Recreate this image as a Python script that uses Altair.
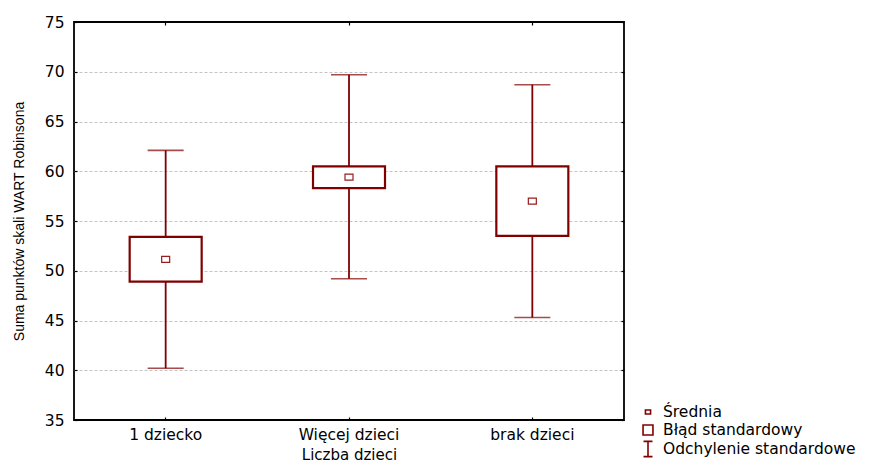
import altair as alt
import pandas as pd

cats = ["1 dziecko", "Więcej dzieci", "brak dzieci"]
mean = [51.15, 59.4, 57.0]
se_lo = [48.9, 58.3, 53.5]
se_hi = [53.4, 60.5, 60.5]
sd_lo = [40.2, 49.2, 45.3]
sd_hi = [62.1, 69.7, 68.7]

leg = ["Średnia", "Błąd standardowy", "Odchylenie standardowe"]
leg_paths = [
    "M-0.32,-0.25L0.32,-0.25L0.32,0.25L-0.32,0.25Z",
    "M-0.62,-0.62L0.62,-0.62L0.62,0.62L-0.62,0.62Z",
    "M-0.56,-0.95L0.56,-0.95M0,-0.95L0,0.95M-0.56,0.95L0.56,0.95",
]

y_ticks = [35, 40, 45, 50, 55, 60, 65, 70, 75]
grid_vals = [40, 45, 50, 55, 60, 65, 70]

df = pd.DataFrame({"cat": cats, "mean": mean, "se_lo": se_lo, "se_hi": se_hi,
                   "sd_lo": sd_lo, "sd_hi": sd_hi})
dleg = pd.DataFrame({"leg": leg})

C = "#800000"
FONT = "DejaVu Sans"

xs = alt.Scale(domain=cats, paddingInner=0, paddingOuter=0)
ys = alt.Scale(domain=[35, 75], nice=False, zero=False)

base = alt.Chart(df)

whisk = base.mark_rule(color=C, strokeWidth=1.8).encode(
    x=alt.X("cat:N", scale=xs, sort=cats,
            axis=alt.Axis(orient="bottom", ticks=False, domain=False, grid=False,
                          labelAngle=0, labelPadding=7, labelFont=FONT, labelFontSize=15.5,
                          labelColor="black", title="Liczba dzieci", titleFont=FONT,
                          titleFontSize=15, titleFontWeight="normal",
                          titleBaseline="alphabetic", titleY=39,
                          titleColor="black", bandPosition=0.5)),
    y=alt.Y("sd_lo:Q", scale=ys,
            axis=alt.Axis(orient="left", values=y_ticks, ticks=False, domain=False,
                          grid=False, labelPadding=10, labelFont=FONT, labelFontSize=15.5,
                          labelColor="black", title="Suma punktów skali WART Robinsona",
                          titleFont="Liberation Sans", titleFontSize=14,
                          titleFontWeight="normal", titleColor="black", titlePadding=18)),
    y2="sd_hi:Q",
)

cap_lo = base.mark_tick(color=C, size=36, thickness=1.6).encode(
    x=alt.X("cat:N", scale=xs, sort=cats,
            axis=alt.Axis(orient="bottom", offset=-3, tickSize=3, tickWidth=1.2,
                          tickColor="black", labels=False, domain=False, grid=False,
                          title=None, bandPosition=0.5)),
    y=alt.Y("sd_lo:Q", scale=ys,
            axis=alt.Axis(orient="left", offset=-3, tickSize=3, tickWidth=1.2,
                          tickColor="black", values=y_ticks, labels=False,
                          domain=False, grid=False, title=None)),
)

cap_hi = base.mark_tick(color=C, size=36, thickness=1.6).encode(
    x=alt.X("cat:N", scale=xs, sort=cats,
            axis=alt.Axis(orient="top", offset=-3, tickSize=3, tickWidth=1.2,
                          tickColor="black", labels=False, domain=False, grid=False,
                          title=None, bandPosition=0.5)),
    y=alt.Y("sd_hi:Q", scale=ys,
            axis=alt.Axis(orient="right", offset=-3, tickSize=3, tickWidth=1.2,
                          tickColor="black", values=y_ticks, labels=False,
                          domain=False, grid=False, title=None)),
)

box = base.mark_bar(size=72, fill="white", stroke=C, strokeWidth=2.2).encode(
    x=alt.X("cat:N", scale=xs, sort=cats, axis=None),
    y=alt.Y("se_lo:Q", scale=ys,
            axis=alt.Axis(orient="left", values=grid_vals, ticks=False, labels=False,
                          domain=False, grid=True, gridColor="#c4c4c4",
                          gridDash=[3, 2], gridWidth=1, title=None)),
    y2="se_hi:Q",
)

pt = base.mark_point(shape="M-1,-0.75L1,-0.75L1,0.75L-1,0.75Z", size=64, filled=False,
                     color="#9a1c1c", strokeWidth=1.2, opacity=1).encode(
    x=alt.X("cat:N", scale=xs, sort=cats, axis=None),
    y=alt.Y("mean:Q", scale=ys, axis=None),
)

legend_layer = alt.Chart(dleg).mark_point(filled=False, color=C, opacity=0,
                                          strokeWidth=1.6).encode(
    shape=alt.Shape("leg:N", scale=alt.Scale(domain=leg, range=leg_paths),
                    legend=alt.Legend(title=None, orient="none", legendX=565,
                                      legendY=381, padding=0, rowPadding=-1,
                                      labelOffset=6, symbolSize=256,
                                      symbolStrokeWidth=1.6, labelFont=FONT,
                                      labelFontSize=15.5, labelColor="black",
                                      labelLimit=320, symbolStrokeColor=C)),
)

chart = alt.layer(whisk, cap_lo, cap_hi, box, pt, legend_layer).resolve_axis(
    x="independent", y="independent"
).properties(
    width=550, height=398,
    background="white",
    autosize=alt.AutoSizeParams(type="none"),
    padding={"left": 66, "top": 14, "right": 255, "bottom": 42},
).configure_view(stroke="black", strokeWidth=1.8)

chart.save("out.html", embed_options={"renderer": "svg", "actions": False})
